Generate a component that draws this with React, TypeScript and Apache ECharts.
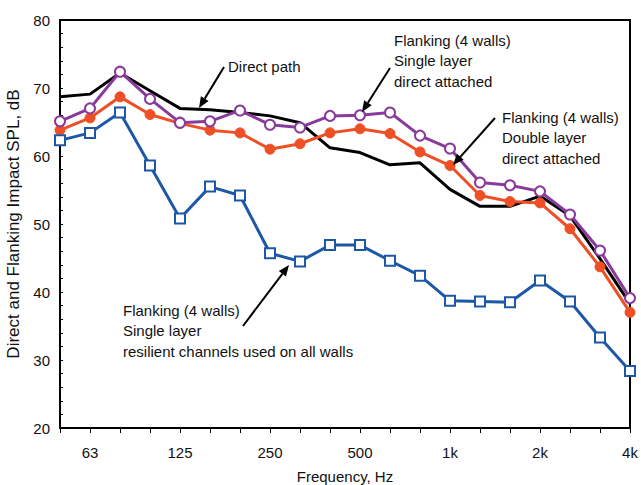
import React, { useEffect, useRef } from "react";
import * as echarts from "echarts";

const categories = ["50", "63", "80", "100", "125", "160", "200", "250", "315", "400", "500", "630", "800", "1k", "1.25k", "1.6k", "2k", "2.5k", "3.15k", "4k"];
const tickLabels = ["63", "125", "250", "500", "1k", "2k", "4k"];

const directPath = [68.7, 69.1, 72.2, 69.6, 67.0, 66.8, 66.4, 65.9, 64.9, 61.2, 60.5, 58.7, 59.0, 55.1, 52.6, 52.6, 54.1, 51.2, 44.9, 38.3];
const singleDirect = [65.1, 67.0, 72.4, 68.4, 64.9, 65.1, 66.7, 64.6, 64.2, 65.9, 66.0, 66.4, 63.0, 61.1, 56.1, 55.7, 54.8, 51.4, 46.1, 39.1];
const doubleDirect = [63.8, 65.6, 68.7, 66.1, 64.8, 63.8, 63.4, 61.0, 61.8, 63.4, 64.0, 63.3, 60.6, 58.6, 54.2, 53.3, 53.1, 49.3, 43.7, 37.0];
const singleResilient = [62.3, 63.4, 66.4, 58.6, 50.8, 55.5, 54.2, 45.7, 44.5, 46.9, 46.9, 44.6, 42.4, 38.7, 38.6, 38.5, 41.7, 38.6, 33.3, 28.4];

const FONT = "Liberation Sans, Arial, sans-serif";

function arrow(x1: number, y1: number, x2: number, y2: number): any[] {
  const ang = Math.atan2(y2 - y1, x2 - x1);
  const len = 11;
  const w = 4.5;
  const bx = x2 - len * Math.cos(ang);
  const by = y2 - len * Math.sin(ang);
  const px = -Math.sin(ang) * w;
  const py = Math.cos(ang) * w;
  return [
    {
      type: "line",
      shape: { x1, y1, x2: bx, y2: by },
      style: { stroke: "#000", lineWidth: 2 },
      z: 100,
    },
    {
      type: "polygon",
      shape: { points: [[x2, y2], [bx + px, by + py], [bx - px, by - py]] },
      style: { fill: "#000" },
      z: 100,
    },
  ];
}

function label(x: number, y: number, lines: string[]): any {
  return {
    type: "text",
    x,
    y,
    z: 100,
    style: {
      text: lines.join("\n"),
      font: `15px ${FONT}`,
      fill: "#111",
      lineHeight: 20.5,
      textVerticalAlign: "top",
    },
  };
}

export default function App() {
  const ref = useRef<HTMLDivElement>(null);
  useEffect(() => {
    if (!ref.current) return;
    const chart = echarts.init(ref.current, undefined, { renderer: "svg" });
    const seriesCommon = {
      type: "line",
      symbolSize: 10,
      lineStyle: { width: 3 },
      z: 3,
    };
    chart.setOption({
      animation: false,
      backgroundColor: "#fff",
      grid: {
        left: 60,
        right: 11,
        top: 20,
        bottom: 57,
        show: true,
        borderColor: "#000",
        borderWidth: 2,
        containLabel: false,
        outerBoundsMode: "none",
      },
      xAxis: {
        type: "category",
        data: categories,
        boundaryGap: false,
        name: "Frequency, Hz",
        nameLocation: "middle",
        nameGap: 41,
        nameTextStyle: { fontFamily: FONT, fontSize: 15, color: "#111" },
        axisLine: { lineStyle: { color: "#000", width: 2 } },
        axisTick: { show: true, inside: false, length: 5, interval: 0, lineStyle: { color: "#000", width: 1 } },
        axisLabel: {
          interval: (_i: number, v: string) => tickLabels.includes(v),
          fontFamily: FONT,
          fontSize: 15,
          color: "#111",
          margin: 17,
        },
        splitLine: { show: false },
      },
      yAxis: {
        type: "value",
        min: 20,
        max: 80,
        interval: 10,
        name: "Direct and Flanking Impact SPL, dB",
        nameLocation: "middle",
        nameGap: 34,
        nameTextStyle: { fontFamily: FONT, fontSize: 17, color: "#111" },
        axisLine: { show: true, lineStyle: { color: "#000", width: 2 } },
        axisTick: { show: true, inside: true, length: 3, lineStyle: { color: "#000" } },
        minorTick: { show: true, splitNumber: 5, length: 3, lineStyle: { color: "#000" } },
        axisLabel: { fontFamily: FONT, fontSize: 15, color: "#111", margin: 10 },
        splitLine: { show: false },
      },
      series: [
        {
          ...seriesCommon,
          name: "Direct path",
          data: directPath,
          symbol: "none",
          color: "#000",
          lineStyle: { width: 3, color: "#000" },
          z: 2,
        },
        {
          ...seriesCommon,
          name: "Single layer direct attached",
          data: singleDirect,
          symbol: "circle",
          color: "#8a3a9a",
          itemStyle: { color: "#fff", borderColor: "#8a3a9a", borderWidth: 2 },
          lineStyle: { width: 3, color: "#8a3a9a" },
          z: 4,
        },
        {
          ...seriesCommon,
          name: "Double layer direct attached",
          data: doubleDirect,
          symbol: "circle",
          color: "#ef4f25",
          itemStyle: { color: "#ef4f25", borderColor: "#ef4f25", borderWidth: 1 },
          lineStyle: { width: 3, color: "#ef4f25" },
          z: 3,
        },
        {
          ...seriesCommon,
          name: "Single layer resilient channels",
          data: singleResilient,
          symbol: "rect",
          color: "#1c58a6",
          itemStyle: { color: "#fff", borderColor: "#1c58a6", borderWidth: 2 },
          lineStyle: { width: 3, color: "#1c58a6" },
          z: 5,
        },
      ],
      graphic: [
        label(228, 56, ["Direct path"]),
        ...arrow(224, 67, 199, 108),
        label(394, 30, ["Flanking (4 walls)", "Single layer", "direct attached"]),
        ...arrow(390, 68, 362, 112),
        label(502, 107, ["Flanking (4 walls)", "Double layer", "direct attached"]),
        ...arrow(495, 118, 453, 165),
        label(123, 300, ["Flanking (4 walls)", "Single layer", "resilient channels used on all walls"]),
        ...arrow(243, 326, 289, 265),
      ],
    });
    return () => chart.dispose();
  }, []);
  return <div ref={ref} style={{ width: 641, height: 485, position: "absolute", left: 0, top: 0 }} />;
}
